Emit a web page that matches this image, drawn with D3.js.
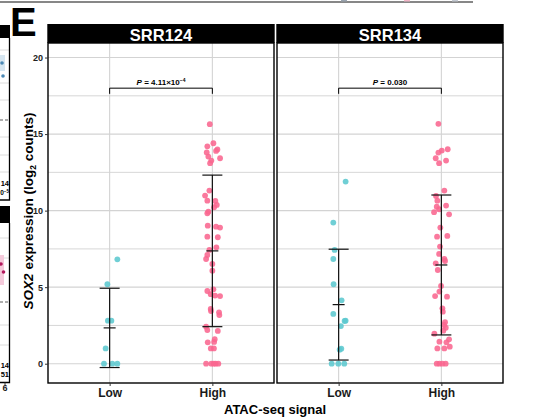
<!DOCTYPE html>
<html><head><meta charset="utf-8">
<script src="https://cdn.jsdelivr.net/npm/d3@7"></script>
<style>body{margin:0;background:#fff}svg{display:block;font-family:"Liberation Sans",Arial,sans-serif}</style>
</head><body><svg id="c" width="550" height="419"></svg>
<script>
// ---------------- data ----------------
const panels = ["SRR124", "SRR134"];
const groups = ["Low", "High"];
const yTicks = [0, 5, 10, 15, 20];
const yMinorTicks = [2.5, 7.5, 12.5, 17.5];
const pBase = ["4.11×10", "0.030"];
const pExponent = ["−4", ""];
const bracketLevel = [18.0, 18.0];

// SOX2 expression values (log2 counts)
const srr124Low = [6.82, 5.19, 2.81, 2.81, 1.0, 0, 0, 0];
const srr124High = [15.65, 14.4, 14.2, 14.0, 13.8, 13.9, 13.53, 13.42, 13.27, 13.1,
  11.31, 10.98, 10.65, 10.63, 10.37, 10.22, 9.93, 9.83, 9.02, 8.95, 8.89,
  8.3, 8.26, 7.6, 7.43, 7.1, 6.84, 6.52, 6.08,
  4.75, 4.86, 4.45, 4.42, 4.54, 3.58, 3.44, 3.36, 3.18,
  2.42, 2.2, 2.14, 1.4, 1.6, 1.42, 1.0, 1.0, 0, 0, 0, 0, 0];
const srr134Low = [11.9, 9.22, 7.43, 6.84, 5.19, 4.14, 3.25, 2.81, 2.79, 2.46, 0.98, 0.92, 0, 0, 0];
const srr134High = [15.67, 14.01, 13.92, 13.79, 13.42, 13.27, 13.1,
  11.31, 10.96, 10.65, 10.26, 10.33, 10.09, 9.9, 9.76, 8.89, 8.3, 8.35,
  7.65, 7.17, 6.84, 6.71, 6.56, 6.12, 5.08, 4.71, 4.42, 4.38, 3.62, 3.4,
  2.71, 2.53, 2.35, 2.16, 1.96, 1.59, 1.44, 1.4, 1.11, 1.0, 1.0, 0, 0, 0, 0];

// horizontal jitter, in hundredths of a category step
const srr124LowJitter = [7.5, -2.2, -1.7, 1.7, -3.9, -5.5, 2.6, 7.5];
const srr124HighJitter = [-2.5, 1.0, -4.9, 4.9, -5.5, 3.6, -3.9, 7.5, -1.0, -2.2,
  -2.9, -7.1, -4.9, 2.9, 4.3, 1.7, -3.9, -4.9, -4.5, 3.6, 7.5,
  -4.9, 5.3, 3.9, -2.9, -4.9, -6.1, 0, 0,
  -4.9, 1.0, 2.6, 7.5, -1.6, -1.6, -1.3, 6.5, 6.8,
  -6.1, -4.9, 5.3, -4.5, 2.3, 1.7, -1.5, 1.5, -6.1, -1.0, 1.3, 3.2, 5.8];
const srr134LowJitter = [6.8, -5.2, -3.9, -5.2, -4.9, 2.9, -5.2, 6.8, 5.8, 2.2, 2.6, 1.0, -6.8, -0.3, 5.5];
const srr134HighJitter = [-2.9, 6.2, 0.4, -2.9, -5.5, 4.6, -2.2,
  2.9, -5.2, -3.9, -4.5, 4.6, -2.2, -7.1, 7.5, -1.0, -4.2, 5.8,
  -1.3, -2.2, 2.9, 3.6, -5.5, -3.5, -0.3, -1.9, -6.1, 5.5, 1.0, 1.4,
  3.6, 2.6, 4.3, 1.9, -6.8, 7.5, -1.9, 4.9, 8.2, -3.9, 2.9, -4.5, -1.9, 1.0, 4.2];

// mean and SD per group (error bars)
const srr124Mean = [2.34, 7.37];
const srr124SD = [2.59, 4.95];
const srr134Mean = [3.86, 6.45];
const srr134SD = [3.62, 4.57];

const values = [[srr124Low, srr124High], [srr134Low, srr134High]];
const jitters = [[srr124LowJitter, srr124HighJitter], [srr134LowJitter, srr134HighJitter]];
const means = [srr124Mean, srr134Mean];
const sds = [srr124SD, srr134SD];

// ---------------- layout ----------------
const svg = d3.select("#c");
const plotTop = 43, plotBottom = 383, panelW = 226;
const panelX = [48, 277];
const groupColor = {Low: "#5cc8cf", High: "#f9668f"};
const gridColor = "#d3d3d3";

const y = d3.scaleLinear().domain([-1.26, 20.95]).range([plotBottom, plotTop]);

// ---- fragments of neighbouring panels (cropped figure) ----
const frag = svg.append("g");
frag.append("line").attr("x1", 0).attr("x2", 473).attr("y1", 2).attr("y2", 2).attr("stroke", "#111").attr("stroke-width", 1.2);
[[344, "#9aa4b0"], [407, "#f2b6c8"], [455, "#c4c9d2"]].forEach(([mx, c]) =>
  frag.append("rect").attr("x", mx - 3).attr("y", 0).attr("width", 6).attr("height", 1.5).attr("fill", c));
// upper-left fragment
frag.append("rect").attr("x", 0).attr("y", 25).attr("width", 10).attr("height", 13).attr("fill", "#000");
[50, 83, 100, 137, 155, 172].forEach(v => frag.append("line").attr("x1", 0).attr("x2", 9).attr("y1", v).attr("y2", v).attr("stroke", gridColor).attr("stroke-width", 0.8));
frag.append("rect").attr("x", 0).attr("y", 55).attr("width", 5).attr("height", 16).attr("fill", "#d6e6f1");
frag.append("line").attr("x1", 0).attr("x2", 9).attr("y1", 120).attr("y2", 120).attr("stroke", "#333").attr("stroke-dasharray", "3,2").attr("stroke-width", 0.8);
frag.append("circle").attr("cx", 2).attr("cy", 63).attr("r", 1.8).attr("fill", "#4a88b5");
frag.append("circle").attr("cx", 3).attr("cy", 76).attr("r", 1.8).attr("fill", "#4a88b5");
frag.append("text").attr("x", 9).attr("y", 186).attr("text-anchor", "end").attr("font-size", 7.5).attr("font-weight", "bold").text("14");
frag.append("text").attr("x", 9).attr("y", 195).attr("text-anchor", "end").attr("font-size", 6.5).attr("font-weight", "bold")
  .call(t => { t.append("tspan").text("0"); t.append("tspan").attr("font-size", 4.5).attr("dy", -2.5).text("−5"); });
frag.append("path").attr("d", "M9.5,38V200H0").attr("fill", "none").attr("stroke", "#000").attr("stroke-width", 1.3);
// lower-left fragment
frag.append("rect").attr("x", 0).attr("y", 206).attr("width", 10).attr("height", 17).attr("fill", "#000");
[238, 258, 325, 345].forEach(v => frag.append("line").attr("x1", 0).attr("x2", 9).attr("y1", v).attr("y2", v).attr("stroke", gridColor).attr("stroke-width", 0.8));
frag.append("rect").attr("x", 0).attr("y", 255).attr("width", 4).attr("height", 30).attr("fill", "#f5cadb");
frag.append("line").attr("x1", 0).attr("x2", 9).attr("y1", 302).attr("y2", 302).attr("stroke", "#333").attr("stroke-dasharray", "3,2").attr("stroke-width", 0.8);
frag.append("circle").attr("cx", 1).attr("cy", 264).attr("r", 1.8).attr("fill", "#b3175c");
frag.append("circle").attr("cx", 3.5).attr("cy", 272).attr("r", 1.8).attr("fill", "#b3175c");
frag.append("text").attr("x", 9).attr("y", 368).attr("text-anchor", "end").attr("font-size", 7.5).attr("font-weight", "bold").text("14");
frag.append("text").attr("x", 9).attr("y", 377).attr("text-anchor", "end").attr("font-size", 7.5).attr("font-weight", "bold").text("51");
frag.append("path").attr("d", "M9.5,223V382.5H0").attr("fill", "none").attr("stroke", "#000").attr("stroke-width", 1.3);
frag.append("line").attr("x1", 5).attr("x2", 5).attr("y1", 382.5).attr("y2", 385).attr("stroke", "#333");
frag.append("text").attr("x", 5).attr("y", 391).attr("text-anchor", "middle").attr("font-size", 9).attr("font-weight", "bold").attr("fill", "#222").text("6");

// ---- panel letter ----
svg.append("text").attr("x", 10).attr("y", 36).attr("font-size", 40).attr("font-weight", "bold").text("E");

// ---- panels ----
panels.forEach((name, i) => {
  const x0 = panelX[i];
  const x = d3.scalePoint().domain(groups).range([x0, x0 + panelW]).padding(0.6);
  const g = svg.append("g");

  g.selectAll("line.minor").data(yMinorTicks).join("line").attr("class", "minor")
    .attr("x1", x0).attr("x2", x0 + panelW).attr("y1", d => y(d)).attr("y2", d => y(d))
    .attr("stroke", gridColor).attr("stroke-width", 0.9);
  g.selectAll("line.major").data(yTicks).join("line").attr("class", "major")
    .attr("x1", x0).attr("x2", x0 + panelW).attr("y1", d => y(d)).attr("y2", d => y(d))
    .attr("stroke", gridColor).attr("stroke-width", 1.1);
  g.selectAll("line.vgrid").data(groups).join("line").attr("class", "vgrid")
    .attr("x1", d => x(d)).attr("x2", d => x(d)).attr("y1", plotTop).attr("y2", plotBottom)
    .attr("stroke", gridColor).attr("stroke-width", 1.1);

  groups.forEach((grp, j) => {
    const pts = values[i][j].map((v, k) => ({v, jit: jitters[i][j][k]}));
    g.append("g").selectAll("circle").data(pts).join("circle")
      .attr("cx", d => x(grp) + d.jit * x.step() / 100)
      .attr("cy", d => y(d.v))
      .attr("r", 2.9)
      .attr("fill", groupColor[grp]).attr("fill-opacity", 0.88);
  });

  groups.forEach((grp, j) => {
    const m = means[i][j], s = sds[i][j], cx = x(grp);
    const eb = g.append("g").attr("stroke", "#111").attr("stroke-width", 1.2);
    eb.append("line").attr("x1", cx).attr("x2", cx).attr("y1", y(m - s)).attr("y2", y(m + s));
    eb.append("line").attr("x1", cx - 10).attr("x2", cx + 10).attr("y1", y(m + s)).attr("y2", y(m + s));
    eb.append("line").attr("x1", cx - 10).attr("x2", cx + 10).attr("y1", y(m - s)).attr("y2", y(m - s));
    eb.append("line").attr("x1", cx - 6).attr("x2", cx + 6).attr("y1", y(m)).attr("y2", y(m));
  });

  // significance bracket
  const bl = bracketLevel[i];
  g.append("path")
    .attr("d", `M${x("Low")},${y(bl - 0.37)}V${y(bl)}H${x("High")}V${y(bl - 0.37)}`)
    .attr("fill", "none").attr("stroke", "#000").attr("stroke-width", 1);
  const pt = g.append("text").attr("x", (x("Low") + x("High")) / 2).attr("y", y(bl) - 3.5)
    .attr("text-anchor", "middle").attr("font-size", 8).attr("font-weight", "bold");
  pt.append("tspan").attr("font-style", "italic").text("P");
  pt.append("tspan").text(" = " + pBase[i]);
  if (pExponent[i]) pt.append("tspan").attr("font-size", 5).attr("dy", -3).text(pExponent[i]);

  // border
  g.append("rect").attr("x", x0).attr("y", plotTop).attr("width", panelW).attr("height", plotBottom - plotTop)
    .attr("fill", "none").attr("stroke", "#000").attr("stroke-width", 1.4);

  // strip
  g.append("rect").attr("x", x0 - 0.7).attr("y", 24).attr("width", panelW + 1.4).attr("height", 19).attr("fill", "#000");
  g.append("text").attr("x", x0 + panelW / 2).attr("y", 40.5).attr("text-anchor", "middle")
    .attr("fill", "#fff").attr("font-size", 16.5).attr("font-weight", "bold").text(name);

  // x axis
  const xa = svg.append("g").attr("transform", `translate(0,${plotBottom})`)
    .call(d3.axisBottom(x).tickSize(3).tickPadding(2.5));
  xa.select(".domain").remove();
  xa.selectAll(".tick line").attr("stroke", "#333").attr("stroke-width", 1);
  xa.selectAll(".tick text").attr("font-size", 12).attr("font-weight", "bold").attr("fill", "#1a1a1a")
    .attr("font-family", "Liberation Sans, Arial, sans-serif");
});

// y axis
const ya = svg.append("g").attr("transform", `translate(${panelX[0]},0)`)
  .call(d3.axisLeft(y).tickValues(yTicks).tickSize(3).tickPadding(2));
ya.select(".domain").remove();
ya.selectAll(".tick line").attr("stroke", "#333");
ya.selectAll(".tick text").attr("font-size", 9).attr("font-weight", "bold").attr("fill", "#222")
  .attr("font-family", "Liberation Sans, Arial, sans-serif");

// axis titles
svg.append("text").attr("x", 275).attr("y", 413.5).attr("text-anchor", "middle")
  .attr("font-size", 13).attr("font-weight", "bold").text("ATAC-seq signal");
const yt = svg.append("text").attr("transform", "translate(33,211) rotate(-90)")
  .attr("text-anchor", "middle").attr("font-size", 13.5).attr("font-weight", "bold");
yt.append("tspan").attr("font-style", "italic").text("SOX2");
yt.append("tspan").text(" expression (log");
yt.append("tspan").attr("font-size", 8.5).attr("dy", 3).text("2");
yt.append("tspan").attr("dy", -3).text(" counts)");
</script>
</body></html>
